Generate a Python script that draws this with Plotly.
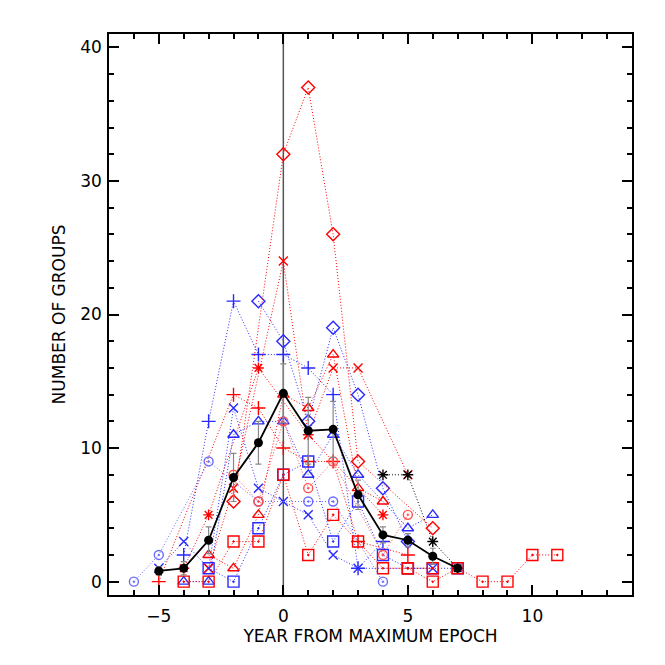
import plotly.graph_objects as go

N = None

# years relative to maximum epoch
years = [-6, -5, -4, -3, -2, -1, 0, 1, 2, 3, 4, 5, 6, 7, 8, 9, 10, 11]

# number of groups per cycle (None = no point)
blue_plus = [N, N, 2, 12, 21, 17, 17, 16, 14, 1, 3, N, N, N, N, N, N, N]
red_plus = [N, 0, N, N, 14, 13, 10, 9, 9, 3, N, 2, N, N, N, N, N, N]
blue_x = [N, 1, 3, 1, 13, 7, 6, 5, 2, 1, N, N, 1, N, N, N, N, N]
red_x = [N, N, N, 1, 7, N, 24, 11, 16, 16, N, 8, N, N, N, N, N, N]
red_asterisk = [N, N, 1, 5, N, 16, N, 11, N, N, 5, N, N, N, N, N, N, N]
black_asterisk = [N, N, N, N, N, N, N, N, N, N, 8, 8, 3, 1, N, N, N, N]
blue_diamond = [N, N, N, N, N, 21, 18, 12, 19, 14, 7, 3, N, N, N, N, N, N]
red_diamond = [N, N, N, N, 6, N, 32, 37, 26, 9, N, N, 4, N, N, N, N, N]
blue_triangle = [N, N, 0, 0, 11, 12, 12, 8, 11, 8, N, 4, 5, N, N, N, N, N]
red_triangle = [N, N, N, 2, 1, 5, 14, 13, 17, 7, 6, N, N, N, N, N, N, N]
blue_square = [N, N, N, 1, 0, 4, 8, 9, 3, 6, 2, 1, 1, 1, N, N, N, N]
red_square = [N, N, 0, 0, 3, 3, 8, 2, 5, 3, 1, 1, 1, N, N, N, N, N]
red_square_tail = [N, N, N, N, N, N, N, N, N, N, N, 1, 0, 1, 0, 0, 2, 2]
blue_circle = [0, 2, N, 9, N, 6, N, 6, 6, N, 0, N, N, N, N, N, N, N]
red_circle = [N, N, N, N, 8, 6, 12, 7, 9, N, 2, 5, N, N, N, N, N, N]

# mean over cycles with its error
mean_years = [-5, -4, -3, -2, -1, 0, 1, 2, 3, 4, 5, 6, 7]
mean_groups = [0.8, 1.0, 3.1, 7.8, 10.4, 14.1, 11.3, 11.4, 6.5, 3.5, 3.1, 1.9, 1.0]
mean_error = [0.3, 0.5, 1.0, 1.8, 1.6, 2.2, 2.5, 2.1, 1.1, 0.6, 0.5, 0.6, 0.1]

RED = "#ff0000"
BLUE = "#2a2aff"

series = [
    (blue_plus, BLUE, "cross-thin-open", 10),
    (red_plus, RED, "cross-thin-open", 10),
    (blue_x, BLUE, "x-thin-open", 9),
    (red_x, RED, "x-thin-open", 9),
    (red_asterisk, RED, "asterisk-open", 9),
    (black_asterisk, "black", "asterisk-open", 9),
    (blue_diamond, BLUE, "diamond-open", 10),
    (red_diamond, RED, "diamond-open", 10),
    (blue_triangle, BLUE, "triangle-up-open", 10),
    (red_triangle, RED, "triangle-up-open", 10),
    (blue_square, BLUE, "square-open-dot", 11),
    (red_square, RED, "square-open-dot", 11),
    (red_square_tail, RED, "square-open-dot", 11),
    (blue_circle, "#6a6aff", "circle-open-dot", 9),
    (red_circle, "#ff5050", "circle-open-dot", 9),
]

fig = go.Figure()

for vals, col, sym, size in series:
    fig.add_trace(
        go.Scatter(
            x=years,
            y=vals,
            mode="lines+markers",
            connectgaps=True,
            line=dict(color=col, width=1, dash="1px,2px"),
            marker=dict(symbol=sym, size=size, color=col, line=dict(color=col, width=1.4)),
            showlegend=False,
        )
    )

fig.add_trace(
    go.Scatter(
        x=mean_years,
        y=mean_groups,
        mode="lines+markers",
        line=dict(color="black", width=1.8),
        marker=dict(symbol="circle", size=9, color="black"),
        error_y=dict(type="data", array=mean_error, color="#888888", thickness=1.2, width=3),
        showlegend=False,
    )
)

# vertical line at the maximum epoch
fig.add_shape(
    type="line", x0=0, x1=0, y0=-1, y1=41,
    line=dict(color="#555555", width=1.5), layer="below",
)

axis_font = dict(family="DejaVu Sans, sans-serif", size=17, color="black")

# page body adds 8px, so the figure is a bit smaller than the window
fig.update_layout(
    width=657,
    height=657,
    margin=dict(l=101, r=33, t=26, b=70),
    plot_bgcolor="white",
    paper_bgcolor="white",
    font=axis_font,
    xaxis=dict(
        range=[-7, 14],
        tickvals=[-5, 0, 5, 10],
        ticks="inside",
        ticklen=10,
        tickwidth=1.5,
        tickcolor="black",
        minor=dict(dtick=1, ticks="inside", ticklen=5, tickwidth=1.5, tickcolor="black"),
        showline=True,
        linewidth=1.5,
        linecolor="black",
        mirror="allticks",
        showgrid=False,
        zeroline=False,
        automargin=False,
        ticklabelstandoff=5,
        title=dict(text="YEAR FROM MAXIMUM EPOCH", font=axis_font, standoff=5),
    ),
    yaxis=dict(
        range=[-1, 41],
        tickvals=[0, 10, 20, 30, 40],
        ticks="inside",
        ticklen=10,
        tickwidth=1.5,
        tickcolor="black",
        minor=dict(dtick=2, ticks="inside", ticklen=5, tickwidth=1.5, tickcolor="black"),
        showline=True,
        linewidth=1.5,
        linecolor="black",
        mirror="allticks",
        showgrid=False,
        zeroline=False,
        automargin=False,
        ticklabelstandoff=2,
        title=dict(text="NUMBER OF GROUPS", font=axis_font, standoff=10),
    ),
)

fig.write_html("out.html")
